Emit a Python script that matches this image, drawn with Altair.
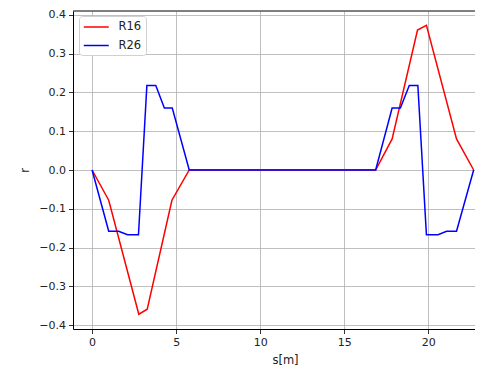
import altair as alt
import pandas as pd

# R16 series
s_r16 = [0.0, 0.99, 2.78, 3.28, 4.75, 5.78, 16.87, 17.85, 19.36, 19.89, 21.68, 22.70]
r16 = [0.0, -0.078, -0.372, -0.359, -0.078, 0.0, 0.0, 0.080, 0.361, 0.373, 0.080, 0.0]

# R26 series
s_r26 = [0.0, 0.99, 1.58, 2.11, 2.76, 3.26, 3.79, 4.30, 4.77, 5.78,
         16.87, 17.85, 18.34, 18.87, 19.38, 19.89, 20.58, 21.09, 21.68, 22.70]
r26 = [0.0, -0.158, -0.158, -0.167, -0.167, 0.218, 0.218, 0.160, 0.160, 0.0,
       0.0, 0.160, 0.160, 0.218, 0.218, -0.167, -0.167, -0.158, -0.158, 0.0]

series_names = ["R16", "R26"]
series_colors = ["#ff0000", "#0000ff"]
x_ticks = [0, 5, 10, 15, 20]
y_ticks = [-0.4, -0.3, -0.2, -0.1, 0.0, 0.1, 0.2, 0.3, 0.4]

df16 = pd.DataFrame({"s": s_r16, "r": r16, "series": "R16", "i": range(len(s_r16))})
df26 = pd.DataFrame({"s": s_r26, "r": r26, "series": "R26", "i": range(len(s_r26))})

W, H = 402, 318
FONT = "DejaVu Sans"

xscale = alt.Scale(domain=[-1.135, 22.78], nice=False, zero=False)
yscale = alt.Scale(domain=[-0.41, 0.41], nice=False, zero=False)
cscale = alt.Scale(domain=series_names, range=series_colors)

xaxis = alt.Axis(values=x_ticks, format="d", title="s[m]", titleX=212, titleY=25,
                 titleBaseline="top", titleAnchor="start", titleAlign="center")
yaxis = alt.Axis(values=y_ticks, format=".1f", title="r", titleX=-48, titleY=159,
                 titleAngle=270, titleBaseline="middle", titleAlign="center")

def line_layer(df):
    return alt.Chart(df).mark_line(strokeWidth=1.5).encode(
        x=alt.X("s:Q", scale=xscale, axis=xaxis),
        y=alt.Y("r:Q", scale=yscale, axis=yaxis),
        color=alt.Color("series:N", scale=cscale,
                        legend=alt.Legend(title=None, orient="none", legendX=6, legendY=5,
                                          symbolType="M-1,0H3", symbolSize=156.25,
                                          symbolStrokeWidth=1.5, labelOffset=21.5,
                                          padding=4, fillColor="white",
                                          strokeColor="#d0d0d0", cornerRadius=3,
                                          rowPadding=5.5, labelFontSize=11.5,
                                          labelFont=FONT, labelColor="#222222")),
        order="i:Q",
    )

top_border = alt.Chart(pd.DataFrame({"k": [0]})).mark_rule(color="black", strokeWidth=1).encode(
    x=alt.value(0), x2=alt.value(W), y=alt.value(0)
)

chart = alt.layer(line_layer(df16), line_layer(df26), top_border).properties(
    width=W, height=H,
    autosize=alt.AutoSizeParams(type="none"),
    padding={"left": 65, "top": 3, "right": 0, "bottom": 40},
).configure_view(stroke=None).configure_axis(
    grid=True, gridColor="#b0b0b0", gridWidth=0.8,
    domainColor="black", domainWidth=1,
    tickColor="black", tickSize=4.5, tickWidth=0.8,
    labelFont=FONT, labelFontSize=11, labelColor="#222222", labelPadding=3,
    titleFont=FONT, titleFontSize=11.5, titleColor="#222222", titleFontWeight="normal",
)

chart.save("out.html", embed_options={"renderer": "svg", "actions": False})
